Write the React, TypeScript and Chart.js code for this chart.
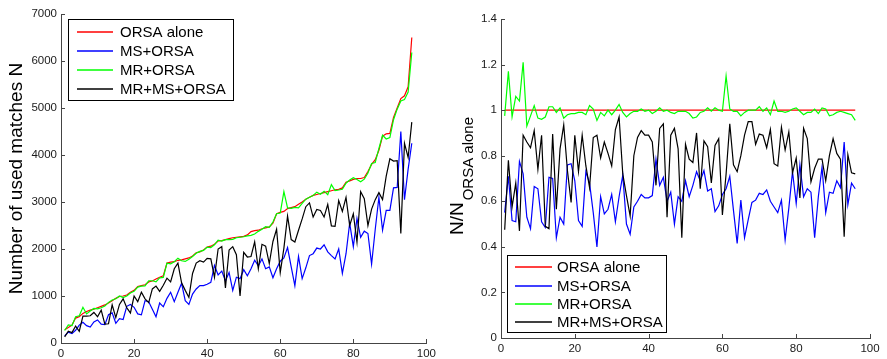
import { useEffect, useRef } from "react";
import { Chart, registerables } from "chart.js";

Chart.register(...registerables);

const FONT = '"Liberation Sans", Arial, Helvetica, sans-serif';

// ---------- data ----------
const seriesNames = ["ORSA alone", "MS+ORSA", "MR+ORSA", "MR+MS+ORSA"];
const seriesColors = ["#ff0000", "#0000ff", "#00ff00", "#000000"];

const leftYTitle = "Number of used matches N";
const rightYTitleMain = "N/N";
const rightYTitleSub = "ORSA alone";

const xTicks = [0, 20, 40, 60, 80, 100];
const xTickLabels = ["0", "20", "40", "60", "80", "100"];
const leftYTicks = [0, 1000, 2000, 3000, 4000, 5000, 6000, 7000];
const leftYTickLabels = ["0", "1000", "2000", "3000", "4000", "5000", "6000", "7000"];
const rightYTicks = [0, 0.2, 0.4, 0.6, 0.8, 1, 1.2, 1.4];
const rightYTickLabels = ["0", "0.2", "0.4", "0.6", "0.8", "1", "1.2", "1.4"];

// left panel: number of used matches
const orsaAlone = [
  280, 330, 380, 530, 560, 630, 670, 700, 720, 750,
  780, 810, 850, 900, 950, 990, 1000, 1020, 1080, 1120,
  1200, 1220, 1240, 1300, 1320, 1360, 1400, 1430, 1700, 1720,
  1730, 1760, 1770, 1790, 1810, 1850, 1920, 1940, 1980, 2040,
  2060, 2100, 2170, 2180, 2200, 2220, 2240, 2250, 2260, 2270,
  2300, 2370, 2390, 2400, 2430, 2450, 2470, 2550, 2750, 2780,
  2800, 2860, 2880, 2900, 2950, 3000, 3060, 3100, 3140, 3160,
  3180, 3200, 3220, 3240, 3260, 3270, 3300, 3420, 3450, 3480,
  3500, 3500, 3520, 3650, 3800, 3900, 4100, 4400, 4450, 4460,
  4800, 5000, 5200, 5260, 5450, 6500,
];
const msOrsa = [
  150, 230, 200, 270, 380, 440, 370, 340, 450, 490,
  400, 390, 600, 640, 420, 520, 500, 780, 820, 760,
  620, 600, 900, 880, 720, 560, 850, 770, 950, 1080,
  880, 1080, 1270, 900, 820, 1040, 1150, 1220, 1220, 1250,
  1290, 1650, 1450, 1530, 1320, 1500, 1120, 1400, 1370, 1560,
  1430, 1580, 1760, 1640, 1790, 1580, 1620, 1390, 1580, 1740,
  1810, 2030, 1620, 1220, 1840, 1370, 1600, 1860, 1900, 2020,
  2000, 2090, 1940, 1860, 1790, 2000, 1480, 1900, 2550, 2050,
  2650, 2250, 2380, 2330, 1680, 2420, 3100, 2400, 2820, 2820,
  3300, 3310, 4500, 3050, 3700, 4250,
];
const mrOrsa = [
  265, 385, 370, 560, 580, 760, 620, 680, 735, 725,
  750, 785, 865, 915, 940, 1000, 965, 1000, 1065, 1100,
  1190, 1210, 1215, 1325, 1325, 1300, 1385, 1395, 1700, 1685,
  1730, 1805, 1750, 1735, 1780, 1840, 1910, 1950, 1970, 2040,
  2030, 2090, 2190, 2170, 2200, 2200, 2205, 2240, 2250, 2260,
  2280, 2290, 2320, 2375, 2420, 2475, 2460, 2575, 2750, 2765,
  3220, 2875, 2865, 2885, 2875, 2970, 3060, 3100, 3140, 3210,
  3165, 3230, 3155, 3370, 3245, 3255, 3270, 3400, 3470, 3515,
  3480, 3430, 3485, 3615, 3820, 3840, 4140, 4420, 4340, 4370,
  4750, 4975, 5150, 5180, 5340, 6180,
];
const mrMsOrsa = [
  130, 250, 220, 360, 250, 570, 570, 580, 650, 560,
  700, 400, 410, 810, 540, 820, 940, 750, 640, 1000,
  880, 1080, 940, 860, 1150, 1210, 1100, 1230, 1380, 1300,
  1580, 1700, 1280, 1120, 970, 1480, 1700, 1750, 1720, 1800,
  1790, 1400, 2000, 2050, 1170, 1980, 2050, 1880, 1000, 1930,
  1830, 1840, 2150, 1580, 2100, 2060, 1690, 2160, 2420, 1500,
  2020, 2700, 2200, 2150, 2400, 2640, 2900, 2980, 2680, 2840,
  2820, 2680, 2950, 2490, 2480, 3030, 2800, 3100, 2500, 2750,
  2150, 3220, 3070, 2500, 2850, 3050, 3200, 3050, 3550, 3920,
  3870, 3880, 2330, 4250, 3950, 4700,
];

// right panel: ratio N / N_ORSA alone
const orsaRatio = [
  1, 1, 1, 1, 1, 1, 1, 1, 1, 1,
  1, 1, 1, 1, 1, 1, 1, 1, 1, 1,
  1, 1, 1, 1, 1, 1, 1, 1, 1, 1,
  1, 1, 1, 1, 1, 1, 1, 1, 1, 1,
  1, 1, 1, 1, 1, 1, 1, 1, 1, 1,
  1, 1, 1, 1, 1, 1, 1, 1, 1, 1,
  1, 1, 1, 1, 1, 1, 1, 1, 1, 1,
  1, 1, 1, 1, 1, 1, 1, 1, 1, 1,
  1, 1, 1, 1, 1, 1, 1, 1, 1, 1,
  1, 1, 1, 1, 1, 1,
];
const msRatio = [
  0.55, 0.71, 0.515, 0.51, 0.775, 0.72, 0.53, 0.48, 0.665, 0.655,
  0.51, 0.485, 0.705, 0.7, 0.44, 0.53, 0.5, 0.76, 0.765, 0.69,
  0.515, 0.49, 0.73, 0.68, 0.55, 0.4, 0.62, 0.545, 0.565, 0.63,
  0.51, 0.62, 0.715, 0.5, 0.455, 0.575, 0.6, 0.63, 0.615, 0.615,
  0.625, 0.785, 0.67, 0.705, 0.6, 0.64, 0.5, 0.62, 0.6, 0.69,
  0.62, 0.67, 0.73, 0.69, 0.735, 0.645, 0.655, 0.555, 0.58, 0.63,
  0.655, 0.71, 0.56, 0.415, 0.605, 0.44, 0.52, 0.595, 0.605, 0.635,
  0.63, 0.65, 0.6, 0.575, 0.55, 0.605, 0.43, 0.57, 0.73, 0.59,
  0.76, 0.62, 0.655, 0.64, 0.44, 0.62, 0.75, 0.55, 0.64, 0.635,
  0.69, 0.66, 0.86, 0.585, 0.68, 0.655,
];
const mrRatio = [
  0.975, 1.17, 0.97, 1.06, 1.04, 1.21, 0.93, 0.975, 1.02, 0.965,
  0.96, 0.97, 1.015, 1.015, 0.99, 1.01, 0.965, 0.98, 0.985, 0.985,
  0.99, 0.99, 0.98, 1.02, 1.005, 0.955, 0.99, 0.975, 1.0, 0.98,
  1.0, 1.025, 0.99, 0.97, 0.985, 0.995, 0.995, 1.005, 0.995, 1.0,
  0.985, 0.995, 1.01, 0.995, 1.0, 0.99, 0.985, 0.995, 0.995, 0.995,
  0.985, 0.965, 0.97, 0.99, 0.995, 1.01, 0.995, 1.01, 1.0, 0.995,
  1.15, 1.005, 0.995, 0.995, 0.975, 0.99, 1.0, 1.0, 1.0, 1.015,
  0.995, 1.01, 0.98, 1.04, 0.995, 0.995, 0.99, 0.995, 1.005, 1.01,
  0.995, 0.98, 0.99, 0.99, 1.005, 0.985, 1.01, 1.005, 0.975, 0.98,
  0.99, 0.995, 0.99, 0.985, 0.98, 0.955,
];
const mrMsRatio = [
  0.475, 0.78, 0.575, 0.68, 0.47, 0.89, 0.86, 0.835, 0.91, 0.74,
  0.89, 0.49, 0.48, 0.895, 0.565, 0.83, 0.935, 0.735, 0.595, 0.89,
  0.73, 0.89, 0.755, 0.66, 0.88, 0.89, 0.79, 0.86, 0.81, 0.755,
  0.915, 0.97, 0.72, 0.625, 0.535, 0.8, 0.88, 0.91, 0.89, 0.89,
  0.86, 0.67, 0.92, 0.94, 0.53, 0.89, 0.92, 0.83, 0.44, 0.85,
  0.785, 0.77, 0.9, 0.655, 0.865, 0.84, 0.68, 0.845, 0.875, 0.54,
  0.72, 0.94, 0.76, 0.73, 0.8, 0.89, 0.95, 0.95, 0.85, 0.895,
  0.89, 0.835, 0.915, 0.765, 0.755, 0.925, 0.825, 0.905, 0.725, 0.79,
  0.615, 0.92, 0.875, 0.685, 0.745, 0.785, 0.785, 0.69, 0.8, 0.875,
  0.81, 0.785, 0.445, 0.805, 0.725, 0.72,
];

// ---------- helpers ----------
const AXIS_COLOR = "#444";
const TICK_TEXT = "#1a1a1a";

type LegendSpec = { x: number; y: number; w: number; h: number; rows: number[]; lineX0: number; lineX1: number; textX: number };

function inwardTicksPlugin() {
  return {
    id: "inwardTicks",
    afterDraw(chart: any) {
      const { ctx, chartArea } = chart;
      const xs = chart.scales.x;
      const ys = chart.scales.y;
      ctx.save();
      ctx.strokeStyle = AXIS_COLOR;
      ctx.lineWidth = 1;
      ctx.beginPath();
      for (const t of ys.ticks) {
        const py = Math.round(ys.getPixelForValue(t.value)) + 0.5;
        ctx.moveTo(chartArea.left, py);
        ctx.lineTo(chartArea.left + 4, py);
      }
      for (const t of xs.ticks) {
        const px = Math.round(xs.getPixelForValue(t.value)) + 0.5;
        ctx.moveTo(px, chartArea.bottom);
        ctx.lineTo(px, chartArea.bottom - 4);
      }
      ctx.stroke();
      ctx.restore();
    },
  };
}

function legendPlugin(spec: LegendSpec) {
  return {
    id: "boxLegend",
    afterDraw(chart: any) {
      const { ctx } = chart;
      ctx.save();
      ctx.fillStyle = "#ffffff";
      ctx.fillRect(spec.x, spec.y, spec.w, spec.h);
      ctx.strokeStyle = "#000000";
      ctx.lineWidth = 1;
      ctx.strokeRect(spec.x + 0.5, spec.y + 0.5, spec.w, spec.h);
      ctx.font = `15px ${FONT}`;
      ctx.textBaseline = "middle";
      ctx.textAlign = "left";
      seriesNames.forEach((name, i) => {
        const y = spec.rows[i];
        ctx.strokeStyle = seriesColors[i];
        ctx.lineWidth = 1.6;
        ctx.beginPath();
        ctx.moveTo(spec.lineX0, y);
        ctx.lineTo(spec.lineX1, y);
        ctx.stroke();
        ctx.fillStyle = "#000000";
        ctx.fillText(name, spec.textX, y + 1);
      });
      ctx.restore();
    },
  };
}

function leftTitlePlugin() {
  return {
    id: "leftTitle",
    afterDraw(chart: any) {
      const { ctx, chartArea } = chart;
      ctx.save();
      ctx.translate(22, (chartArea.top + chartArea.bottom) / 2);
      ctx.rotate(-Math.PI / 2);
      ctx.font = `19px ${FONT}`;
      ctx.fillStyle = "#000";
      ctx.textAlign = "center";
      ctx.textBaseline = "alphabetic";
      ctx.fillText(leftYTitle, 0, 0);
      ctx.restore();
    },
  };
}

function rightTitlePlugin() {
  return {
    id: "rightTitle",
    afterDraw(chart: any) {
      const { ctx } = chart;
      ctx.save();
      ctx.font = `19px ${FONT}`;
      const w1 = ctx.measureText(rightYTitleMain).width;
      ctx.font = `15px ${FONT}`;
      const w2 = ctx.measureText(rightYTitleSub).width;
      const total = w1 + 2 + w2;
      const centerY = 176;
      const startY = centerY + total / 2;
      ctx.fillStyle = "#000";
      ctx.textAlign = "left";
      ctx.textBaseline = "alphabetic";
      ctx.save();
      ctx.translate(23, startY);
      ctx.rotate(-Math.PI / 2);
      ctx.font = `19px ${FONT}`;
      ctx.fillText(rightYTitleMain, 0, 0);
      ctx.restore();
      ctx.save();
      ctx.translate(33, startY - w1 - 2);
      ctx.rotate(-Math.PI / 2);
      ctx.font = `15px ${FONT}`;
      ctx.fillText(rightYTitleSub, 0, 0);
      ctx.restore();
      ctx.restore();
    },
  };
}

function toPoints(values: number[]) {
  return values.map((v, i) => ({ x: i + 1, y: v }));
}

function buildConfig(opts: {
  series: number[][];
  yMax: number;
  yTicks: number[];
  yTickLabels: string[];
  padding: { top: number; right: number; left: number; bottom: number };
  yWidth: number;
  xHeight: number;
  plugins: any[];
}): any {
  return {
    type: "line",
    data: {
      datasets: opts.series.map((vals, i) => ({
        label: seriesNames[i],
        data: toPoints(vals),
        borderColor: seriesColors[i],
        backgroundColor: seriesColors[i],
        borderWidth: 1.2,
        pointRadius: 0,
        tension: 0,
        fill: false,
        order: 4 - i,
      })),
    },
    options: {
      responsive: false,
      animation: false,
      devicePixelRatio: 1,
      layout: { padding: opts.padding },
      plugins: { legend: { display: false }, tooltip: { enabled: false }, title: { display: false } },
      events: [],
      scales: {
        x: {
          type: "linear",
          min: 0,
          max: 100,
          grid: { display: false, drawTicks: false },
          border: { display: true, color: AXIS_COLOR, width: 1 },
          afterBuildTicks: (scale: any) => {
            scale.ticks = xTicks.map((v) => ({ value: v }));
          },
          afterFit: (scale: any) => {
            scale.height = opts.xHeight;
          },
          ticks: {
            autoSkip: false,
            maxRotation: 0,
            padding: 4,
            color: TICK_TEXT,
            font: { family: FONT, size: 11.5 },
            callback: (_v: any, idx: number) => xTickLabels[idx],
          },
        },
        y: {
          type: "linear",
          min: 0,
          max: opts.yMax,
          grid: { display: false, drawTicks: false },
          border: { display: true, color: AXIS_COLOR, width: 1 },
          afterBuildTicks: (scale: any) => {
            scale.ticks = opts.yTicks.map((v) => ({ value: v }));
          },
          afterFit: (scale: any) => {
            scale.width = opts.yWidth;
          },
          ticks: {
            autoSkip: false,
            padding: 4,
            color: TICK_TEXT,
            font: { family: FONT, size: 11.5 },
            callback: (_v: any, idx: number) => opts.yTickLabels[idx],
          },
        },
      },
    },
    plugins: opts.plugins,
  };
}

export default function App() {
  const leftRef = useRef<HTMLCanvasElement | null>(null);
  const rightRef = useRef<HTMLCanvasElement | null>(null);

  useEffect(() => {
    const left = new Chart(
      leftRef.current as HTMLCanvasElement,
      buildConfig({
        series: [orsaAlone, msOrsa, mrOrsa, mrMsOrsa],
        yMax: 7000,
        yTicks: leftYTicks,
        yTickLabels: leftYTickLabels,
        padding: { top: 14, right: 12, left: 0, bottom: 0 },
        yWidth: 61,
        xHeight: 16,
        plugins: [
          inwardTicksPlugin(),
          leftTitlePlugin(),
          legendPlugin({ x: 68, y: 19, w: 165, h: 81, rows: [32, 51, 70, 89], lineX0: 77, lineX1: 113, textX: 120 }),
        ],
      })
    );
    const right = new Chart(
      rightRef.current as HTMLCanvasElement,
      buildConfig({
        series: [orsaRatio, msRatio, mrRatio, mrMsRatio],
        yMax: 1.4,
        yTicks: rightYTicks,
        yTickLabels: rightYTickLabels,
        padding: { top: 19, right: 17, left: 0, bottom: 0 },
        yWidth: 61,
        xHeight: 21,
        plugins: [
          inwardTicksPlugin(),
          rightTitlePlugin(),
          legendPlugin({ x: 67, y: 255, w: 159, h: 77, rows: [267, 286, 304, 322], lineX0: 75, lineX1: 112, textX: 117 }),
        ],
      })
    );
    return () => {
      left.destroy();
      right.destroy();
    };
  }, []);

  return (
    <div style={{ position: "fixed", left: 0, top: 0, width: 887, height: 359, background: "#ffffff", overflow: "hidden" }}>
      <canvas ref={leftRef} width={440} height={359} style={{ position: "absolute", left: 0, top: 0, width: 440, height: 359 }} />
      <canvas ref={rightRef} width={447} height={359} style={{ position: "absolute", left: 440, top: 0, width: 447, height: 359 }} />
    </div>
  );
}
